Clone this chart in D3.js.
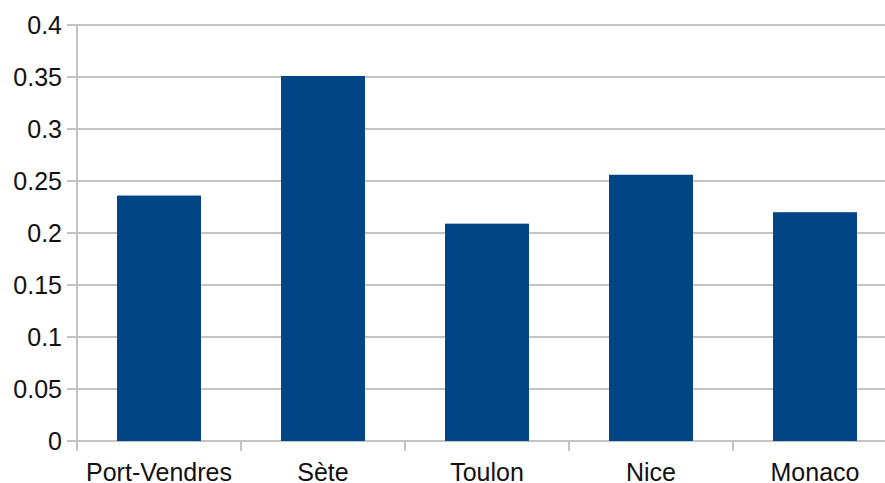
<!DOCTYPE html>
<html><head><meta charset="utf-8">
<script src="https://cdn.jsdelivr.net/npm/d3@7"></script>
<style>body{margin:0;background:#fff}svg{display:block}text{font-family:"Liberation Sans",Arial,sans-serif}</style>
</head><body>
<svg id="c" width="885" height="483"></svg>
<script>
const categories = ["Port-Vendres", "Sète", "Toulon", "Nice", "Monaco"];
const values = [0.236, 0.351, 0.209, 0.256, 0.22];
const yTicks = [0, 0.05, 0.1, 0.15, 0.2, 0.25, 0.3, 0.35, 0.4];
const yTickLabels = ["0", "0.05", "0.1", "0.15", "0.2", "0.25", "0.3", "0.35", "0.4"];

(function () {
const svg = d3.select("#c");
const mLeft = 77, mRight = 897, mTop = 25, mBottom = 441;
const x = d3.scaleBand().domain(categories).range([mLeft, mRight]).paddingInner(0.488).paddingOuter(0.244);
const y = d3.scaleLinear().domain([0, 0.4]).range([mBottom, mTop]);
const grid = "#c3c3c3";

// gridlines
svg.append("g").selectAll("line").data(yTicks).join("line")
  .attr("x1", mLeft - 10).attr("x2", 885)
  .attr("y1", d => y(d)).attr("y2", d => y(d))
  .attr("stroke", grid).attr("stroke-width", 2);

// y axis line
svg.append("line").attr("x1", mLeft).attr("x2", mLeft).attr("y1", mTop).attr("y2", mBottom + 10)
  .attr("stroke", grid).attr("stroke-width", 2);

// x ticks (category boundaries)
const step = x.step();
svg.append("g").selectAll("line").data(d3.range(1, categories.length + 1)).join("line")
  .attr("x1", i => mLeft + i * step).attr("x2", i => mLeft + i * step)
  .attr("y1", mBottom).attr("y2", mBottom + 10)
  .attr("stroke", grid).attr("stroke-width", 2);

// bars
svg.append("g").selectAll("rect").data(values).join("rect")
  .attr("x", (d, i) => x(categories[i]))
  .attr("width", x.bandwidth())
  .attr("y", d => y(d))
  .attr("height", d => y(0) - y(d))
  .attr("fill", "#004586");

// y labels
svg.append("g").selectAll("text").data(yTicks).join("text")
  .attr("x", 62).attr("y", d => y(d) + 9)
  .attr("text-anchor", "end").attr("font-size", 25).attr("fill", "#111")
  .text((d, i) => yTickLabels[i]);

// x labels
svg.append("g").selectAll("text").data(categories).join("text")
  .attr("x", d => x(d) + x.bandwidth() / 2).attr("y", 481)
  .attr("text-anchor", "middle").attr("font-size", 25).attr("fill", "#111")
  .text(d => d);
})();
</script>
</body></html>
